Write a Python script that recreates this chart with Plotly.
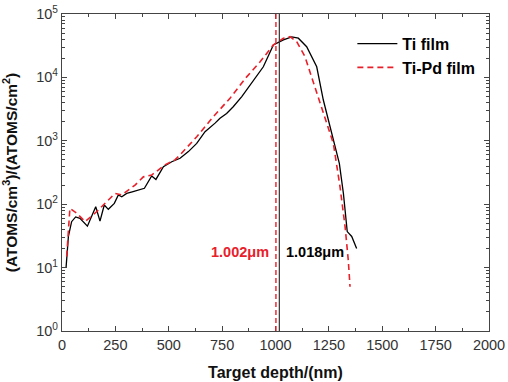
import plotly.graph_objects as go

# Ti film (black solid)
ti_x = [19, 22, 30, 45, 64, 84, 119, 158, 178, 198, 217, 245, 264, 280, 303, 329, 386, 420, 440,
        475, 514, 553, 592, 631, 670, 717, 740, 771, 802, 842, 881, 920, 943, 990, 1037, 1076,
        1107, 1146, 1193, 1224, 1263, 1299, 1318, 1336, 1357, 1380]
ti_y = [10, 15, 31, 53, 63, 60, 45, 91, 54, 97, 83, 103, 140, 131, 148, 157, 178, 279, 246,
        390, 468, 530, 675, 910, 1390, 1900, 2260, 2700, 3450, 4980, 7600, 11600, 14700, 32500, 39000, 43500,
        41500, 30500, 14700, 4400, 1310, 440, 148, 37, 31, 20]

# Ti-Pd film (red dashed)
tipd_x = [22, 37, 69, 108, 162, 201, 248, 280, 342, 381, 420, 482, 529, 553, 631, 709, 787, 865,
          927, 990, 1037, 1068, 1099, 1138, 1185, 1232, 1271, 1302, 1326, 1341, 1349]
tipd_y = [15, 86, 72, 53, 76, 103, 148, 140, 200, 270, 288, 417, 500, 600, 1160, 2400, 4700, 10200,
          17500, 32500, 41500, 44000, 36700, 21300, 7100, 2400, 910, 190, 44, 13, 5]

# projected ranges (nm) and labels
ti_range = 1018
tipd_range = 1002
ti_label = "1.018μm"
tipd_label = "1.002μm"

x_ticks = [0, 250, 500, 750, 1000, 1250, 1500, 1750, 2000]
y_exps = [0, 1, 2, 3, 4, 5]

font_family = "Liberation Sans, Arial, sans-serif"

fig = go.Figure()
fig.add_trace(go.Scatter(x=ti_x, y=ti_y, mode="lines", name="<b>Ti film</b>",
                         line=dict(color="black", width=1.3)))
fig.add_trace(go.Scatter(x=tipd_x, y=tipd_y, mode="lines", name="<b>Ti-Pd film</b>",
                         line=dict(color="#e8202a", width=1.6, dash="6px,4px")))

fig.add_shape(type="line", x0=tipd_range, x1=tipd_range, y0=0, y1=1, xref="x", yref="paper",
              line=dict(color="#e8202a", width=1.4, dash="5px,3px"))
fig.add_shape(type="line", x0=ti_range, x1=ti_range, y0=0, y1=1, xref="x", yref="paper",
              line=dict(color="#333333", width=1.2))

fig.add_annotation(x=tipd_range - 25, y=1.25, xref="x", yref="y", text="<b>" + tipd_label + "</b>",
                   showarrow=False, xanchor="right", yanchor="middle",
                   font=dict(family=font_family, size=14.5, color="#e8202a"))
fig.add_annotation(x=ti_range + 20, y=1.25, xref="x", yref="y", text="<b>" + ti_label + "</b>",
                   showarrow=False, xanchor="left", yanchor="middle",
                   font=dict(family=font_family, size=14.5, color="black"))

minor_y = [m * 10 ** e for e in range(0, 5) for m in range(2, 10)]

fig.update_xaxes(range=[0, 2000], tickvals=x_ticks, ticks="inside", ticklen=5, tickwidth=1,
                 minor=dict(ticks="inside", ticklen=3, dtick=125, tick0=0, tickcolor="#444"),
                 showline=True, linecolor="#444", linewidth=1.3, mirror="ticks", showgrid=False,
                 zeroline=False, tickcolor="#444", automargin=False,
                 tickfont=dict(family=font_family, size=14.5, color="#333"),
                 title=dict(text="<b>Target depth/(nm)</b>",
                            font=dict(family=font_family, size=16, color="#111")))
fig.update_yaxes(type="log", range=[0, 5], tickvals=[10 ** e for e in y_exps],
                 ticktext=["10<sup>%d</sup>" % e for e in y_exps],
                 ticks="inside", ticklen=5, tickwidth=1, tickcolor="#444",
                 minor=dict(ticks="inside", ticklen=3, tickmode="array", tickvals=minor_y, tickcolor="#444"),
                 showline=True, linecolor="#444", linewidth=1.3, mirror="ticks", showgrid=False,
                 zeroline=False, automargin=False,
                 tickfont=dict(family=font_family, size=14.5, color="#333"),
                 title=dict(text="<b>(ATOMS/cm<sup>3</sup>)/(ATOMS/cm<sup>2</sup>)</b>",
                            font=dict(family=font_family, size=15.5, color="#111")))

fig.update_layout(width=508, height=382, margin=dict(l=62, r=19, t=14, b=51),
                  paper_bgcolor="white", plot_bgcolor="white",
                  showlegend=True,
                  legend=dict(x=0.68, y=0.96, xanchor="left", yanchor="top", bgcolor="rgba(0,0,0,0)",
                              font=dict(family=font_family, size=16, color="black"),
                              itemwidth=40, tracegroupgap=0))

fig.write_html("out.html", config={"displayModeBar": False},
               post_script="document.body.style.margin='0px';")
